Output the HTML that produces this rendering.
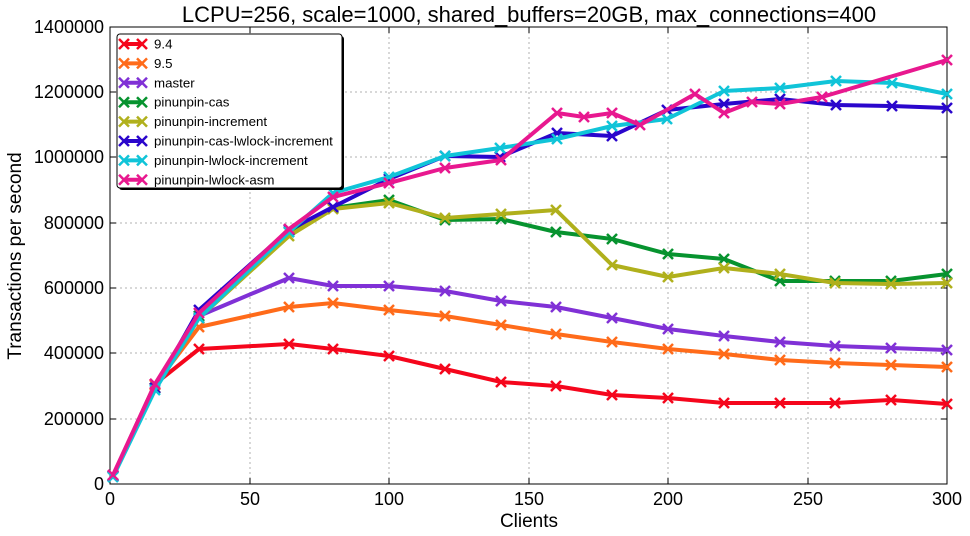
<!DOCTYPE html><html><head><style>body{margin:0;background:#fff}svg{display:block}text{font-family:"Liberation Sans",sans-serif}</style></head><body>
<svg width="970" height="536" xmlns="http://www.w3.org/2000/svg">
<defs>
<marker id="m0" markerUnits="userSpaceOnUse" markerWidth="14" markerHeight="14" refX="7" refY="7" overflow="visible"><path d="M2,2L12,12M2,12L12,2" stroke="#f5061c" stroke-width="2.5" fill="none"/></marker>
<marker id="m1" markerUnits="userSpaceOnUse" markerWidth="14" markerHeight="14" refX="7" refY="7" overflow="visible"><path d="M2,2L12,12M2,12L12,2" stroke="#ff6b1a" stroke-width="2.5" fill="none"/></marker>
<marker id="m2" markerUnits="userSpaceOnUse" markerWidth="14" markerHeight="14" refX="7" refY="7" overflow="visible"><path d="M2,2L12,12M2,12L12,2" stroke="#8031d6" stroke-width="2.5" fill="none"/></marker>
<marker id="m3" markerUnits="userSpaceOnUse" markerWidth="14" markerHeight="14" refX="7" refY="7" overflow="visible"><path d="M2,2L12,12M2,12L12,2" stroke="#07932f" stroke-width="2.5" fill="none"/></marker>
<marker id="m4" markerUnits="userSpaceOnUse" markerWidth="14" markerHeight="14" refX="7" refY="7" overflow="visible"><path d="M2,2L12,12M2,12L12,2" stroke="#b0b01c" stroke-width="2.5" fill="none"/></marker>
<marker id="m5" markerUnits="userSpaceOnUse" markerWidth="14" markerHeight="14" refX="7" refY="7" overflow="visible"><path d="M2,2L12,12M2,12L12,2" stroke="#2a06cc" stroke-width="2.5" fill="none"/></marker>
<marker id="m6" markerUnits="userSpaceOnUse" markerWidth="14" markerHeight="14" refX="7" refY="7" overflow="visible"><path d="M2,2L12,12M2,12L12,2" stroke="#10c4d8" stroke-width="2.5" fill="none"/></marker>
<marker id="m7" markerUnits="userSpaceOnUse" markerWidth="14" markerHeight="14" refX="7" refY="7" overflow="visible"><path d="M2,2L12,12M2,12L12,2" stroke="#e8188f" stroke-width="2.5" fill="none"/></marker>
</defs>
<rect x="110" y="27" width="837" height="457" fill="#fff" stroke="#000" stroke-width="1"/>
<g stroke="#b0b0b0" stroke-dasharray="2,3" stroke-width="1">
<line x1="250" y1="27" x2="250" y2="484"/><line x1="389" y1="27" x2="389" y2="484"/><line x1="529" y1="27" x2="529" y2="484"/><line x1="668" y1="27" x2="668" y2="484"/><line x1="808" y1="27" x2="808" y2="484"/>
<line x1="110" y1="92" x2="947" y2="92"/><line x1="110" y1="157" x2="947" y2="157"/><line x1="110" y1="223" x2="947" y2="223"/><line x1="110" y1="288" x2="947" y2="288"/><line x1="110" y1="353" x2="947" y2="353"/><line x1="110" y1="419" x2="947" y2="419"/>
</g>
<g stroke="#000" stroke-width="1">
<path d="M250,484v-6M389,484v-6M529,484v-6M668,484v-6M808,484v-6M250,27v6M389,27v6M529,27v6M668,27v6M808,27v6"/>
<path d="M110,92h6M110,157h6M110,223h6M110,288h6M110,353h6M110,419h6M947,92h-6M947,157h-6M947,223h-6M947,288h-6M947,353h-6M947,419h-6"/>
</g>
<g font-size="18" text-anchor="end">
<text x="104" y="33">1400000</text><text x="104" y="98">1200000</text><text x="104" y="163">1000000</text><text x="104" y="229">800000</text><text x="104" y="294">600000</text><text x="104" y="359">400000</text><text x="104" y="425">200000</text><text x="104" y="490">0</text>
</g>
<g font-size="18" text-anchor="middle">
<text x="110" y="505">0</text><text x="250" y="505">50</text><text x="389" y="505">100</text><text x="529" y="505">150</text><text x="668" y="505">200</text><text x="808" y="505">250</text><text x="947" y="505">300</text>
<text x="529" y="527" font-size="19">Clients</text>
<text x="529" y="22" font-size="22">LCPU=256, scale=1000, shared_buffers=20GB, max_connections=400</text>
</g>
<text transform="translate(21,256) rotate(-90)" font-size="19" text-anchor="middle">Transactions per second</text>
<g fill="none" stroke-width="4" stroke-linejoin="round">
<polyline stroke="#f5061c" marker-start="url(#m0)" marker-mid="url(#m0)" marker-end="url(#m0)" points="113,476 155,384 199,349 289,344 333,349 389,356 445,369 501,382 556,386 612,395 668,398 724,403 780,403 835,403 891,400 947,404"/>
<polyline stroke="#ff6b1a" marker-start="url(#m1)" marker-mid="url(#m1)" marker-end="url(#m1)" points="113,476 155,385 199,327 289,307 333,303 389,310 445,316 501,325 556,334 612,342 668,349 724,354 780,360 835,363 891,365 947,367"/>
<polyline stroke="#8031d6" marker-start="url(#m2)" marker-mid="url(#m2)" marker-end="url(#m2)" points="113,476 155,388 199,316 289,278 333,286 389,286 445,291 501,301 556,307 612,318 668,329 724,336 780,342 835,346 891,348 947,350"/>
<polyline stroke="#07932f" marker-start="url(#m3)" marker-mid="url(#m3)" marker-end="url(#m3)" points="113,476 155,388 199,316 289,232 333,208 389,200 445,220 501,219 556,232 612,239 668,254 724,259 780,281 835,281 891,281 947,274"/>
<polyline stroke="#b0b01c" marker-start="url(#m4)" marker-mid="url(#m4)" marker-end="url(#m4)" points="113,476 155,388 199,318 289,236 333,209 389,203 445,218 501,214 556,210 612,265 668,277 724,268 780,274 835,283 891,284 947,283"/>
<polyline stroke="#2a06cc" marker-start="url(#m5)" marker-mid="url(#m5)" marker-end="url(#m5)" points="113,476 155,388 199,310 289,230 333,207 389,179 445,156 500,157 557,133 612,136 667,110 724,104 780,99 836,105 892,106 947,108"/>
<polyline stroke="#10c4d8" marker-start="url(#m6)" marker-mid="url(#m6)" marker-end="url(#m6)" points="113,477 155,390 199,318 289,232 333,193 389,177 445,156 500,148 557,139 612,126 667,119 724,91 780,88 836,81 892,83 947,94"/>
<polyline stroke="#e8188f" marker-start="url(#m7)" marker-mid="url(#m7)" marker-end="url(#m7)" points="113,475 155,384 199,313 289,229 333,197 389,183 445,168 501,160 557,113 584,117 612,113 640,125 695,94 724,113 752,102 780,104 822,97 947,60"/>
</g>
<rect x="119" y="36" width="225" height="154" rx="3" fill="#000"/>
<rect x="117" y="34" width="225" height="154" rx="3" fill="#fff" stroke="#000"/>
<g fill="none" stroke-width="4">
<line x1="124" y1="44" x2="142" y2="44" stroke="#f5061c" marker-start="url(#m0)" marker-end="url(#m0)"/>
<line x1="124" y1="63.4" x2="142" y2="63.4" stroke="#ff6b1a" marker-start="url(#m1)" marker-end="url(#m1)"/>
<line x1="124" y1="82.8" x2="142" y2="82.8" stroke="#8031d6" marker-start="url(#m2)" marker-end="url(#m2)"/>
<line x1="124" y1="102.2" x2="142" y2="102.2" stroke="#07932f" marker-start="url(#m3)" marker-end="url(#m3)"/>
<line x1="124" y1="121.6" x2="142" y2="121.6" stroke="#b0b01c" marker-start="url(#m4)" marker-end="url(#m4)"/>
<line x1="124" y1="141" x2="142" y2="141" stroke="#2a06cc" marker-start="url(#m5)" marker-end="url(#m5)"/>
<line x1="124" y1="160.4" x2="142" y2="160.4" stroke="#10c4d8" marker-start="url(#m6)" marker-end="url(#m6)"/>
<line x1="124" y1="179.8" x2="142" y2="179.8" stroke="#e8188f" marker-start="url(#m7)" marker-end="url(#m7)"/>
</g>
<g font-size="13.3">
<text x="154" y="48.5">9.4</text><text x="154" y="67.9">9.5</text><text x="154" y="87.3">master</text><text x="154" y="106.7">pinunpin-cas</text><text x="154" y="126.1">pinunpin-increment</text><text x="154" y="145.5">pinunpin-cas-lwlock-increment</text><text x="154" y="164.9">pinunpin-lwlock-increment</text><text x="154" y="184.3">pinunpin-lwlock-asm</text>
</g>
</svg>
</body></html>
